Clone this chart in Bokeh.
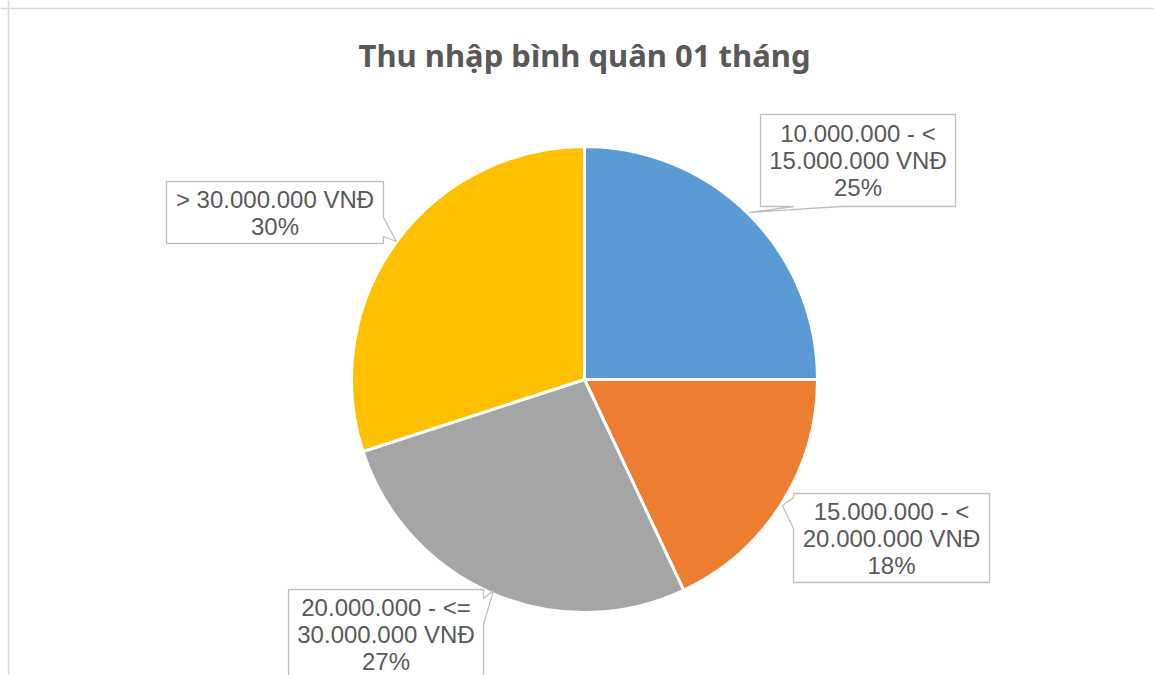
import math
from bokeh.plotting import figure
from bokeh.models import Range1d, Span, ColumnDataSource
from bokeh.core.properties import value
from bokeh.embed import file_html
from bokeh.resources import INLINE

# ---- data ----
title_text = "Thu nhập bình quân 01 tháng"
categories = ["10.000.000 - <\n15.000.000 VNĐ",
              "15.000.000 - <\n20.000.000 VNĐ",
              "20.000.000 - <=\n30.000.000 VNĐ",
              "> 30.000.000 VNĐ"]
shares = [25, 18, 27, 30]
colors = ["#5B9BD5", "#ED7D31", "#A5A5A5", "#FFC000"]

# ---- layout (picture pixel coords) ----
W, H = 1154, 675
def px(X):
    return X
def py(Y):
    return H - Y

CX, CY, R = 584, 379, 233
# label boxes: (x0, y0, x1, y1), pointer side, base1, base2, tip
boxes = [
    ((760, 114, 955, 206), "bottom", 793, 840, (749, 212)),
    ((793, 493, 989, 582), "left", 497, 528, (782, 505)),
    ((288, 589, 483, 700), "right", 598, 624, (493, 590)),
    ((166, 181, 383, 243), "right", 217, 236, (396, 241)),
]
label_first_y = [133, 511, 607, 199]
line_gap = 27

p = figure(width=W, height=H, output_backend="svg", toolbar_location=None,
           x_range=Range1d(0, W), y_range=Range1d(0, H), min_border=0)
p.axis.visible = False
p.grid.visible = False
p.outline_line_color = None
p.background_fill_color = "white"
p.border_fill_color = "white"

# chart border (left and top visible)
p.add_layout(Span(location=8, dimension="height", line_color="#D9D9D9", line_width=1.5))
p.add_layout(Span(location=H - 8, dimension="width", line_color="#D9D9D9", line_width=1.5))

# pie
total = float(sum(shares))
starts, ends = [], []
cum = 0.0
for v in shares:
    starts.append(math.pi / 2 - 2 * math.pi * cum / total)
    cum += v
    ends.append(math.pi / 2 - 2 * math.pi * cum / total)
src = ColumnDataSource(dict(x=[px(CX)] * len(shares), y=[py(CY)] * len(shares),
                            start=starts, end=ends, color=colors))
p.wedge(x="x", y="y", radius=R, radius_units="screen", start_angle="start",
        end_angle="end", direction="clock", fill_color="color",
        line_color="white", line_width=3, source=src)

# title
p.text(x=[px(CX)], y=[py(54)], text=[title_text], text_align="center",
       text_baseline="middle", text_font=value("Noto Sans"), text_font_style="bold",
       text_font_size="31px", text_color="#595959")

# callouts
xs, ys = [], []
for (x0, y0, x1, y1), side, b1, b2, tip in boxes:
    if side == "bottom":
        pts = [(x0, y0), (x1, y0), (x1, y1), (b2, y1), tip, (b1, y1), (x0, y1)]
    elif side == "right":
        pts = [(x0, y0), (x1, y0), (x1, b1), tip, (x1, b2), (x1, y1), (x0, y1)]
    else:
        pts = [(x0, y0), (x1, y0), (x1, y1), (x0, y1), (x0, b2), tip, (x0, b1)]
    xs.append([px(a) for a, b in pts])
    ys.append([py(b) for a, b in pts])
p.patches(xs=xs, ys=ys, fill_color="white", line_color="#BFBFBF", line_width=1.3)

tx, ty, tt = [], [], []
for i, cat in enumerate(categories):
    lines = cat.split("\n") + [f"{shares[i]}%"]
    (x0, y0, x1, y1) = boxes[i][0]
    for j, ln in enumerate(lines):
        tx.append(px((x0 + x1) / 2))
        ty.append(py(label_first_y[i] + j * line_gap))
        tt.append(ln)
p.text(x=tx, y=ty, text=tt, text_align="center", text_baseline="middle",
       text_font=value("Liberation Sans"), text_font_size="24px", text_color="#595959")

open("out.html", "w").write(file_html(p, INLINE))
